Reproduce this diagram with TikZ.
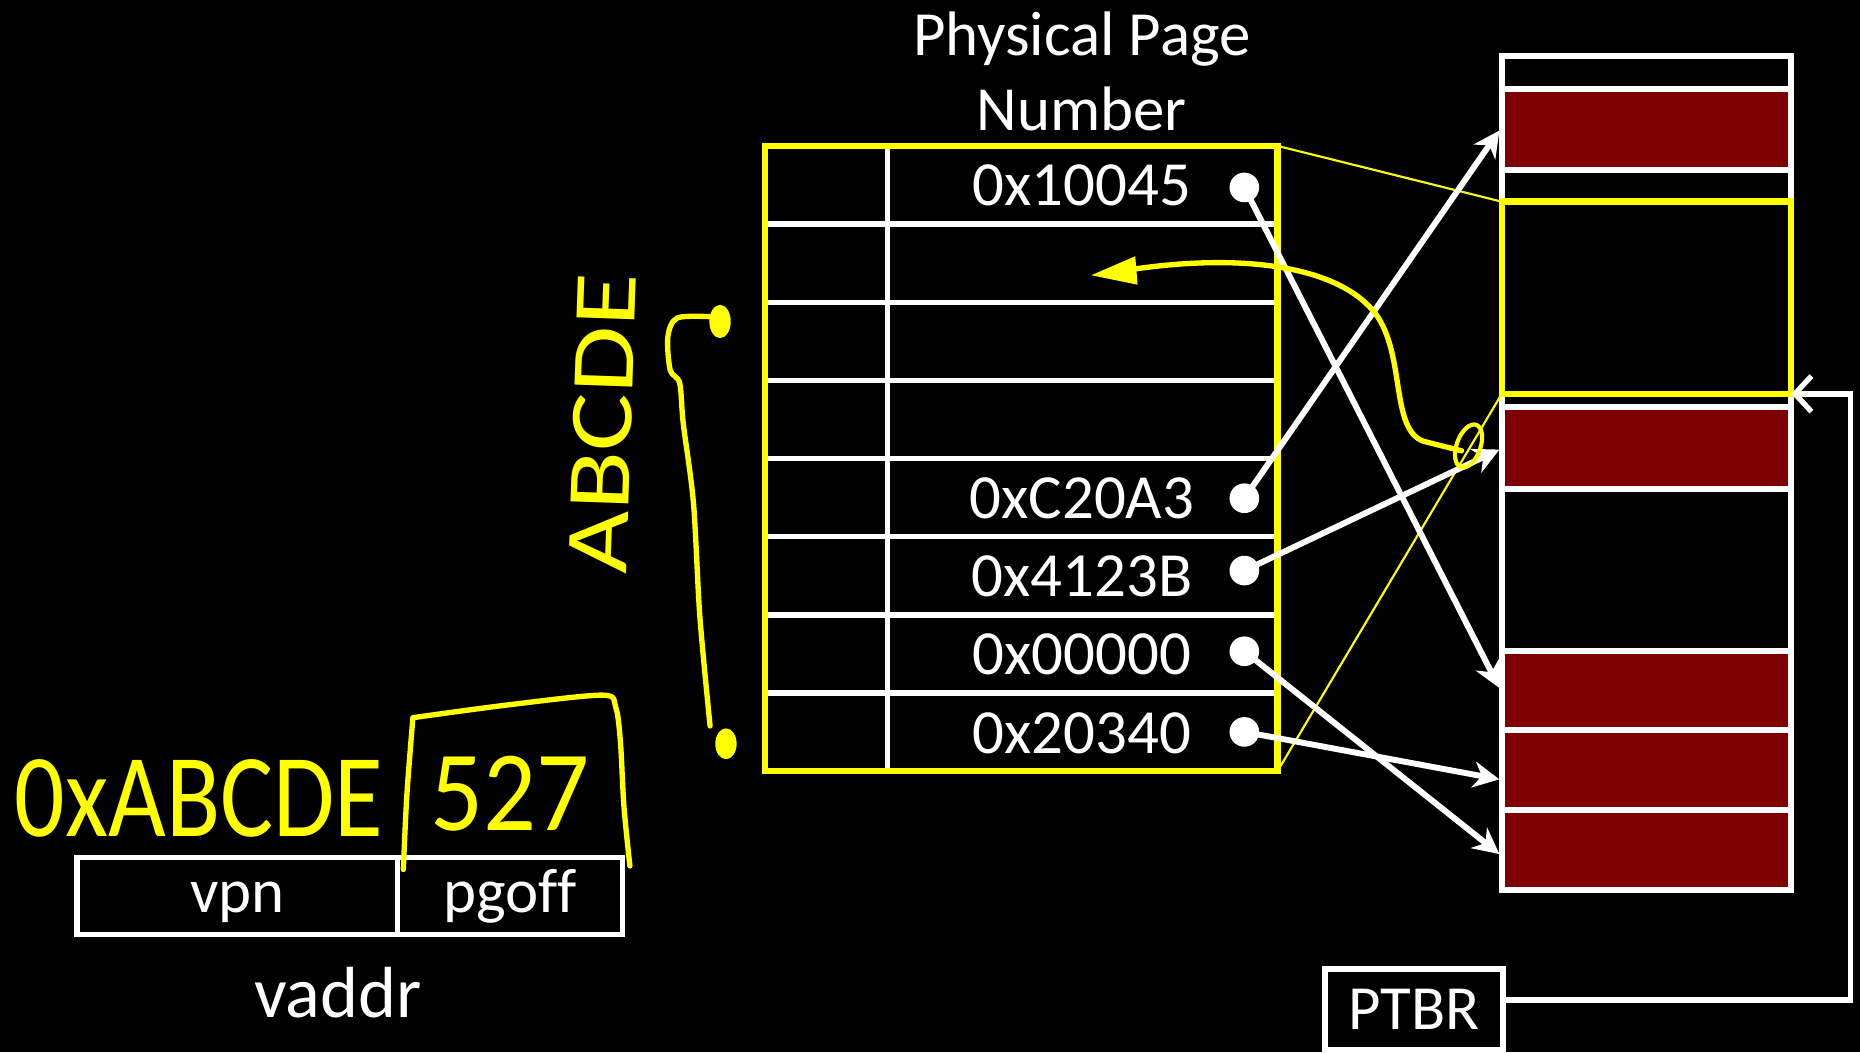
\documentclass[tikz,border=0pt]{standalone}
\usepackage{fontspec}
\setmainfont{Carlito}
\usetikzlibrary{arrows.meta}
\definecolor{memred}{RGB}{127,0,0}
\definecolor{hl}{RGB}{255,255,0}
\begin{document}
\begin{tikzpicture}[x=1pt,y=-1pt,
  lbl/.style={text=white, font=\fontsize{53}{60}\selectfont, inner sep=0pt, anchor=base},
  wline/.style={white, line width=4.5pt},
  dotnode/.style={circle, fill=white, minimum size=25pt, inner sep=0pt},
  ptr/.style={white, line width=5pt, -{Stealth[length=22pt,width=22pt,inset=7pt]}},
  hand/.style={hl, line width=4.5pt, line cap=round, line join=round},
  handtext/.style={text=hl, inner sep=0pt},
  thinhl/.style={hl, line width=1.8pt},
  memcell/.style={draw=white, line width=5pt, fill=memred}]
\useasboundingbox (0,0) rectangle (1568,887);
\fill[black] (0,0) rectangle (1568,887);

% ---- page table ----
\foreach \yy in {188.9,254.8,320.6,386.5,452.4,518.3,584.1}
  \draw[wline] (645,\yy) -- (1077,\yy);
\draw[wline] (748,123) -- (748,650);
\node[draw=hl, line width=5.5pt, minimum width=432pt, minimum height=527pt, inner sep=0pt, outer sep=0pt] (tbl) at (861,386.5) {};

\node[lbl] (title1) at (912,47) {Physical Page};
\node[lbl] (title2) at (912,110) {Number};

\node[lbl] (r0) at (912,173) {0x10045};
\node[lbl] (r4) at (912,437) {0xC20A3};
\node[lbl] (r5) at (912,503) {0x4123B};
\node[lbl] (r6) at (912,569) {0x00000};
\node[lbl] (r7) at (912,635) {0x20340};

\node[dotnode] (d0) at (1049,158) {};
\node[dotnode] (d4) at (1049,420) {};
\node[dotnode] (d5) at (1049,481) {};
\node[dotnode] (d6) at (1049,549) {};
\node[dotnode] (d7) at (1049,617) {};

% ---- physical memory ----
\draw[white, line width=5pt] (1266,47) rectangle (1510,750);
\filldraw[memcell] (1266,75) rectangle (1510,143);
\draw[wline] (1266,170) -- (1510,170);
\filldraw[memcell] (1266,343) rectangle (1510,412);
\filldraw[memcell] (1266,549) rectangle (1510,615);
\filldraw[memcell] (1266,615) rectangle (1510,683);
\filldraw[memcell] (1266,683) rectangle (1510,750);
\node[draw=hl, line width=5.5pt, minimum width=244pt, minimum height=162pt, inner sep=0pt, outer sep=0pt] (ybox) at (1388,251) {};

% thin yellow zoom lines
\draw[thinhl] (tbl.north east) -- (ybox.north west);
\draw[thinhl] (tbl.south east) -- (ybox.south west);

% arrow targets
\coordinate (t0) at (1264,580);
\coordinate (t4) at (1264,110);
\coordinate (t5) at (1264,379);
\coordinate (t6) at (1264,720);
\coordinate (t7) at (1264,657);
\draw[ptr] (d0.center) -- (t0);
\draw[ptr] (d4.center) -- (t4);
\draw[ptr] (d5.center) -- (t5);
\draw[ptr] (d6.center) -- (t6);
\draw[ptr] (d7.center) -- (t7);

% PTBR
\node[draw=white, line width=5pt, minimum width=150pt, minimum height=68pt, inner sep=0pt, text=white, font=\fontsize{53}{60}\selectfont] (ptbr) at (1192,851) {PTBR};
\draw[white, line width=4.5pt, -{Straight Barb[length=14pt,width=30pt,line width=4.5pt]}]
  ([yshift=8pt]ptbr.east) -- (1560,843) -- (1560,332) -- (ybox.south east);

% ---- vaddr ----
\draw[white, line width=4.5pt] (65,723) rectangle (335,788);
\draw[white, line width=4.5pt] (335,723) rectangle (525,788);
\node[lbl] (vpn) at (200,769) {vpn};
\node[lbl] (pgoff) at (430,769) {pgo\mbox{f}f};
\node[lbl, font=\fontsize{61}{70}\selectfont] (vaddr) at (285,858) {vaddr};

% ---- handwritten annotations ----
\node[handtext, anchor=base] (hx) at (168,705) {\fontsize{80}{90}\selectfont\scalebox{1.05}[1.25]{0xABCDE}};
\node[handtext, anchor=base] (h527) at (430,700) {\fontsize{84}{90}\selectfont\scalebox{1.05}[1.15]{527}};
\draw[hand] plot[smooth] coordinates {(340,733) (343,670) (348,606)};
\draw[hand] plot[smooth] coordinates {(348,605) (430,594) (508,586) (519,596) (523,625) (526,680) (531,730)};

\node[handtext, rotate=88] (habc) at (508,357) {\fontsize{80}{90}\selectfont\scalebox{1.15}[0.95]{ABCDE}};
\draw[hand] plot[smooth] coordinates {(600,267) (571,268) (563,284) (565,312) (573,323) (576,357) (584.6,424) (590,520) (598.6,612)};
\fill[hl] (607,271) ellipse [x radius=9, y radius=14];
\fill[hl] (612,627) ellipse [x radius=9, y radius=13];

% curved arrow into row 1
\fill[hl] (920,232) -- (957,216) -- (959,240) -- cycle;
\draw[hand] (955,227) .. controls (1050,213) and (1130,225) .. (1160,265)
  .. controls (1185,300) and (1172,362) .. (1200,372) -- (1232,380);
\draw[hand, line width=3.5pt, rotate around={-20:(1238,376)}] (1238,376) ellipse [x radius=10, y radius=19];
\end{tikzpicture}
\end{document}
